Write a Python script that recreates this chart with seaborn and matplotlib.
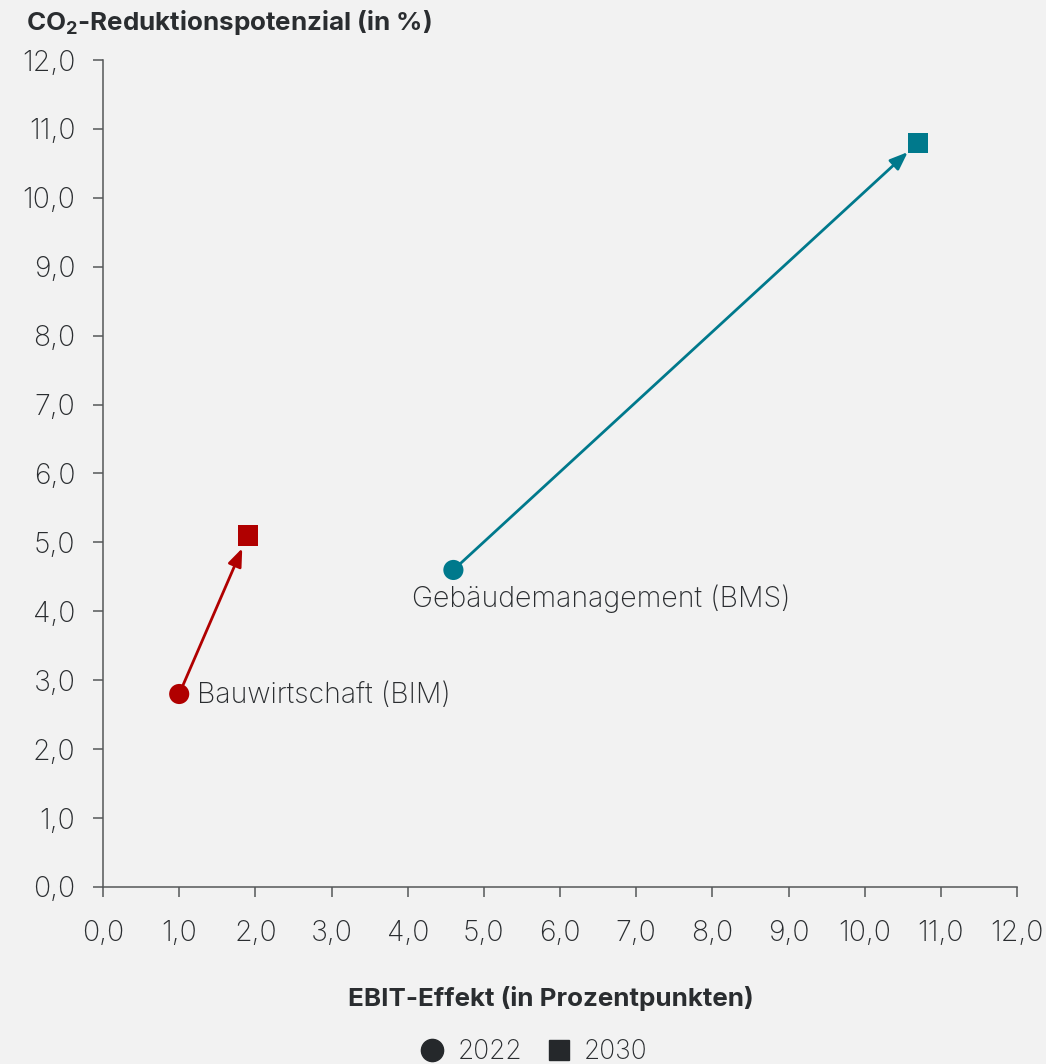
import matplotlib
matplotlib.use("Agg")
import matplotlib.pyplot as plt
from matplotlib.lines import Line2D
import seaborn as sns
import pandas as pd

categories = ["Bauwirtschaft (BIM)", "Gebäudemanagement (BMS)"]
ebit_2022 = [1.0, 4.6]
co2_2022 = [2.8, 4.6]
ebit_2030 = [1.9, 10.7]
co2_2030 = [5.1, 10.8]
years = ["2022", "2030"]
tick_values = [0, 1, 2, 3, 4, 5, 6, 7, 8, 9, 10, 11, 12]
tick_labels = ["0,0", "1,0", "2,0", "3,0", "4,0", "5,0", "6,0", "7,0", "8,0", "9,0", "10,0", "11,0", "12,0"]
colors = {"Bauwirtschaft (BIM)": "#b00000", "Gebäudemanagement (BMS)": "#00798c"}

BG = "#f2f2f2"
TXT = "#2a2d30"
SPINE = "#555759"

sns.set_theme(style="white")
plt.rcParams["font.family"] = ["Inter", "DejaVu Sans"]

rows = []
for i, c in enumerate(categories):
    rows.append({"cat": c, "year": years[0], "x": ebit_2022[i], "y": co2_2022[i]})
    rows.append({"cat": c, "year": years[1], "x": ebit_2030[i], "y": co2_2030[i]})
df = pd.DataFrame(rows)

fig = plt.figure(figsize=(10.46, 10.64), dpi=100, facecolor=BG)
ax = fig.add_axes([0.0985, 0.1664, 0.8738, 0.7772])
ax.set_facecolor(BG)

# arrows
for i, c in enumerate(categories):
    ax.annotate("", xy=(ebit_2030[i], co2_2030[i]), xytext=(ebit_2022[i], co2_2022[i]),
                arrowprops=dict(arrowstyle="-|>,head_length=0.9,head_width=0.35", color=colors[c],
                                lw=2.0, shrinkA=0, shrinkB=10), zorder=2)

sns.scatterplot(data=df, x="x", y="y", hue="cat", style="year", palette=colors,
                markers={"2022": "o", "2030": "s"}, s=210, linewidth=0, ax=ax,
                legend=False, zorder=3)

LBL = 20.5
# labels
ax.annotate(categories[0], xy=(ebit_2022[0], co2_2022[0]), xytext=(13, -1),
            textcoords="offset points", ha="left", va="center", fontsize=LBL,
            color=TXT, fontweight="light")
ax.annotate(categories[1], xy=(ebit_2022[1], co2_2022[1]), xytext=(-30, -21),
            textcoords="offset points", ha="left", va="center", fontsize=LBL,
            color=TXT, fontweight="light")

ax.set_xlim(0, 12)
ax.set_ylim(0, 12)
ax.set_xticks(tick_values)
ax.set_xticklabels(tick_labels)
ax.set_yticks(tick_values)
ax.set_yticklabels(tick_labels)
ax.tick_params(axis="both", which="major", direction="out", length=7, width=1.1,
               color=SPINE, labelsize=LBL, labelcolor=TXT, left=True, bottom=True)
ax.tick_params(axis="x", pad=17)
ax.tick_params(axis="y", pad=13)
for lbl in ax.get_xticklabels() + ax.get_yticklabels():
    lbl.set_fontweight("light")
for s in ["top", "right"]:
    ax.spines[s].set_visible(False)
for s in ["left", "bottom"]:
    ax.spines[s].set_color(SPINE)
    ax.spines[s].set_linewidth(1.1)
ax.set_xlabel("")
ax.set_ylabel("")
ax.grid(False)

fig.text(0.025, 0.979, "CO$_\\mathregular{2}$-Reduktionspotenzial (in %)", ha="left", va="center",
         fontsize=18.7, fontweight="bold", color=TXT)
fig.text(0.527, 0.062, "EBIT-Effekt (in Prozentpunkten)", ha="center", va="center",
         fontsize=18.7, fontweight="bold", color=TXT)

handles = [Line2D([], [], marker="o", ls="", color="#25282b", markersize=16),
           Line2D([], [], marker="s", ls="", color="#25282b", markersize=15)]
leg = fig.legend(handles, years, loc="center", bbox_to_anchor=(0.51, 0.011), ncol=2,
                 frameon=False, fontsize=19, handletextpad=0.45, columnspacing=0.9,
                 handlelength=1.0)
for t in leg.get_texts():
    t.set_color(TXT)
    t.set_fontweight("light")

fig.savefig("out.png", dpi=100, facecolor=BG)
